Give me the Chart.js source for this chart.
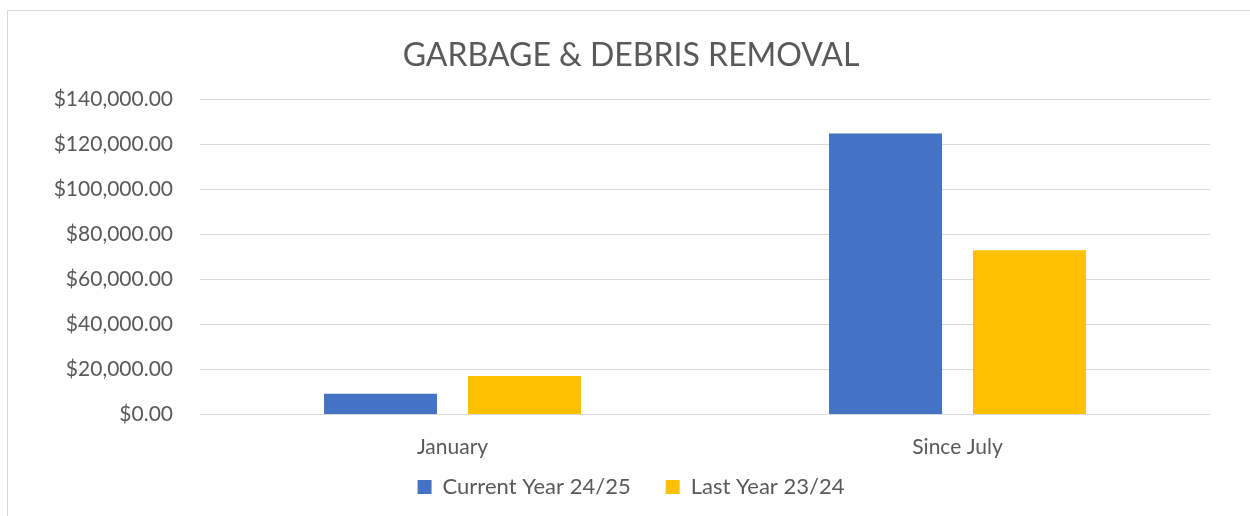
<!DOCTYPE html>
<html>
<head>
<meta charset="utf-8">
<script src="https://cdn.jsdelivr.net/npm/chart.js@4.4.1/dist/chart.umd.min.js"></script>
<style>
  html, body { margin: 0; padding: 0; background: #ffffff; overflow: hidden; }
  #wrap { position: relative; width: 1250px; height: 516px; }
  #frame { position: absolute; left: 7px; top: 10px; width: 1260px; height: 520px; border: 1px solid #d9d9d9; box-sizing: border-box; }
  #chart { position: absolute; left: 0; top: 0; }
</style>
</head>
<body>
<div id="wrap">
  <div id="frame"></div>
  <canvas id="chart" width="1250" height="516"></canvas>
</div>
<script>
const categories = ["January", "Since July"];
const currentYear = [9200, 124800];
const lastYear = [17100, 73000];
const yTicks = [0, 20000, 40000, 60000, 80000, 100000, 120000, 140000];

const textColor = "#595959";
const gridColor = "#d9d9d9";
const fontFamily = "Lato, 'Open Sans', sans-serif";

function money(v) {
  return "$" + v.toLocaleString("en-US", { minimumFractionDigits: 2, maximumFractionDigits: 2 });
}

// the x axis is squeezed so the legend sits close; let its labels draw past its box
const unclipXLabels = {
  id: "unclipXLabels",
  afterLayout(chart) {
    const x = chart.scales.x;
    x.bottom = x.top + 50;
  },
};

const ctx = document.getElementById("chart").getContext("2d");

new Chart(ctx, {
  type: "bar",
  data: {
    labels: categories,
    datasets: [
      {
        label: "Current Year 24/25",
        data: currentYear,
        backgroundColor: "#4472c4",
        categoryPercentage: 0.57,
        barPercentage: 0.785,
      },
      {
        label: "Last Year 23/24",
        data: lastYear,
        backgroundColor: "#ffc000",
        categoryPercentage: 0.57,
        barPercentage: 0.785,
      },
    ],
  },
  options: {
    responsive: false,
    animation: false,
    layout: { padding: { top: 10, right: 40, bottom: 8, left: 52 } },
    plugins: {
      title: {
        display: true,
        text: "GARBAGE & DEBRIS REMOVAL",
        color: textColor,
        font: { family: fontFamily, size: 32, weight: "normal" },
        padding: { top: 26, bottom: 25 },
      },
      legend: {
        position: "bottom",
        labels: {
          color: textColor,
          font: { family: fontFamily, size: 22 },
          boxWidth: 14,
          boxHeight: 14,
          padding: 35,
        },
      },
      tooltip: { enabled: false },
    },
    scales: {
      x: {
        afterFit: (scale) => { scale.height = 26.5; },
        grid: { display: false },
        border: { display: false },
        ticks: { color: textColor, font: { family: fontFamily, size: 21 }, padding: 12 },
      },
      y: {
        min: 0,
        max: 140000,
        afterFit: (scale) => { scale.width = 148; },
        afterBuildTicks: (scale) => { scale.ticks = yTicks.map((v) => ({ value: v })); },
        grid: { color: gridColor, lineWidth: 1, drawTicks: false },
        border: { display: false },
        ticks: {
          color: textColor,
          font: { family: fontFamily, size: 21 },
          padding: 27,
          callback: (v) => money(v),
        },
      },
    },
  },
  plugins: [unclipXLabels],
});
</script>
</body>
</html>
